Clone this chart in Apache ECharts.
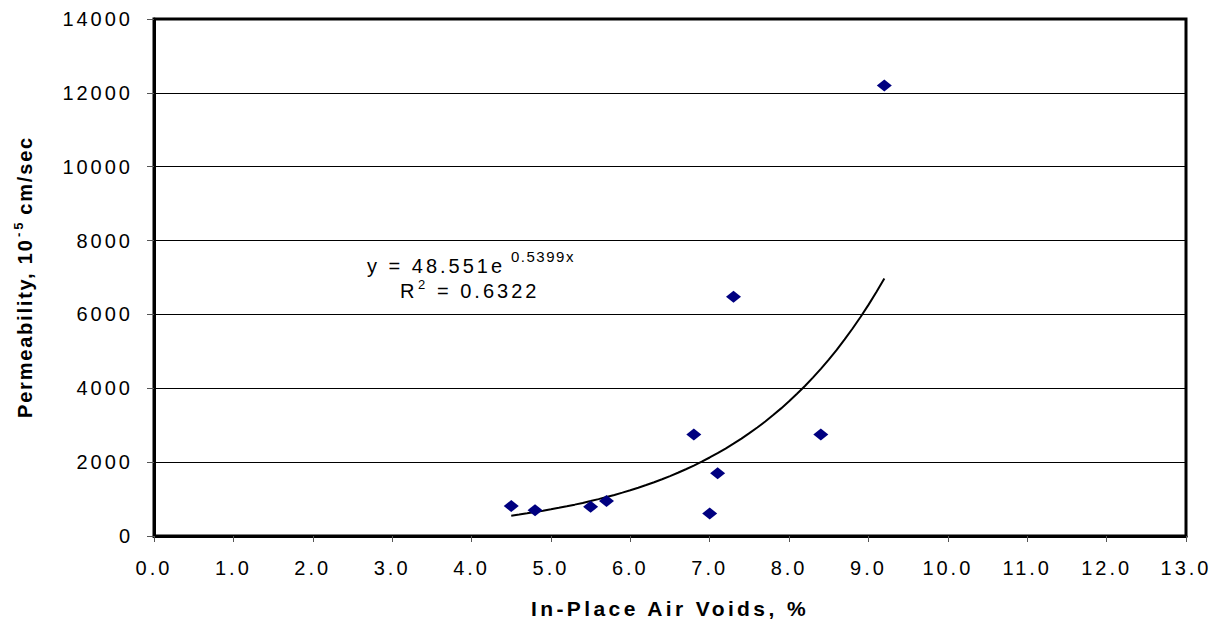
<!DOCTYPE html>
<html>
<head>
<meta charset="utf-8">
<script src="https://cdn.jsdelivr.net/npm/echarts@6/dist/echarts.min.js"></script>
<style>
  body { margin: 0; background: #fff; }
  #main { width: 1217px; height: 621px; }
  /* wide Excel-style letter spacing on every text */
  #main text { letter-spacing: 3px; }
  #main text[style*="21px"], #main text[font-size="21px"], #main text[font-size="21"] { letter-spacing: 3.4px; }
  #main text[style*="bold"][style*="20px"], #main text[font-weight="bold"][font-size="20px"], #main text[font-weight="bold"][font-size="20"] { letter-spacing: 1.8px; }
  #main text[style*="15px"], #main text[font-size="15px"], #main text[font-size="15"] { letter-spacing: 1.5px; }
</style>
</head>
<body>
<div id="main"></div>
<script>
// air voids (%) and permeability (10^-5 cm/sec)
const airVoids = [4.5, 4.8, 5.5, 5.7, 6.8, 7.0, 7.1, 7.3, 8.4, 9.2];
const permeability = [810, 700, 790, 950, 2750, 610, 1700, 6480, 2750, 12200];

// exponential trendline as printed on the chart
const trendA = 48.551;
const trendB = 0.5399;
const trendFrom = 4.5;
const trendTo = 9.2;

const xTicks = { min: 0, max: 13, interval: 1 };
const yTicks = { min: 0, max: 14000, interval: 2000 };

const font = '"Liberation Sans", Arial, sans-serif';

const trendData = [];
for (let i = 0; i <= 47; i++) {
  const x = trendFrom + (trendTo - trendFrom) * i / 47;
  trendData.push([x, trendA * Math.exp(trendB * x)]);
}

const chart = echarts.init(document.getElementById('main'), null, { renderer: 'svg' });

const option = {
  animation: false,
  backgroundColor: '#fff',
  grid: {
    left: 154, right: 31, top: 19, bottom: 85,
    show: true, borderColor: '#000', borderWidth: 3
  },
  xAxis: {
    type: 'value',
    min: xTicks.min, max: xTicks.max, interval: xTicks.interval,
    axisLine: { onZero: false, lineStyle: { color: '#000', width: 3 } },
    axisTick: { show: true, length: 6, lineStyle: { color: '#555', width: 1 } },
    splitLine: { show: false },
    axisLabel: {
      formatter: v => v.toFixed(1),
      fontSize: 20, fontFamily: font, color: '#000', margin: 22
    }
  },
  yAxis: {
    type: 'value',
    min: yTicks.min, max: yTicks.max, interval: yTicks.interval,
    axisLine: { show: true, lineStyle: { color: '#000', width: 3 } },
    axisTick: { show: true, length: 7, lineStyle: { color: '#555', width: 1 } },
    splitLine: { show: true, lineStyle: { color: '#000', width: 1 } },
    axisLabel: {
      formatter: v => String(v),
      fontSize: 20, fontFamily: font, color: '#000', margin: 21
    }
  },
  series: [
    {
      name: 'Permeability',
      type: 'scatter',
      data: airVoids.map((x, i) => [x, permeability[i]]),
      symbol: 'diamond',
      symbolSize: [15, 12],
      itemStyle: { color: '#000080', opacity: 1 },
      z: 3
    },
    {
      name: 'Trend',
      type: 'line',
      data: trendData,
      showSymbol: false,
      smooth: false,
      lineStyle: { color: '#000', width: 2 },
      z: 2
    }
  ],
  graphic: [
    // x axis title
    {
      type: 'text', x: 670, y: 608,
      style: { text: 'In-Place Air Voids, %', font: 'bold 21px ' + font, fill: '#000', align: 'center', verticalAlign: 'middle' }
    },
    // y axis title with superscript
    {
      type: 'group', x: 25, y: 278, rotation: Math.PI / 2,
      children: [
        { type: 'text', x: -140, y: 0, style: { text: 'Permeability, 10', font: 'bold 20px ' + font, fill: '#000', align: 'left', verticalAlign: 'middle' } },
        { type: 'text', x: 41, y: -7, style: { text: '-5', font: 'bold 13px ' + font, fill: '#000', align: 'left', verticalAlign: 'middle' } },
        { type: 'text', x: 56, y: 0, style: { text: ' cm/sec', font: 'bold 20px ' + font, fill: '#000', align: 'left', verticalAlign: 'middle' } }
      ]
    },
    // trendline equation
    { type: 'text', x: 367, y: 266, style: { text: 'y = 48.551e', font: '20px ' + font, fill: '#000', align: 'left', verticalAlign: 'middle' } },
    { type: 'text', x: 511, y: 256, style: { text: '0.5399x', font: '15px ' + font, fill: '#000', align: 'left', verticalAlign: 'middle' } },
    { type: 'text', x: 400, y: 291, style: { text: 'R', font: '20px ' + font, fill: '#000', align: 'left', verticalAlign: 'middle' } },
    { type: 'text', x: 418, y: 284, style: { text: '2', font: '13px ' + font, fill: '#000', align: 'left', verticalAlign: 'middle' } },
    { type: 'text', x: 437, y: 291, style: { text: '= 0.6322', font: '20px ' + font, fill: '#000', align: 'left', verticalAlign: 'middle' } }
  ]
};

chart.setOption(option);
</script>
</body>
</html>
